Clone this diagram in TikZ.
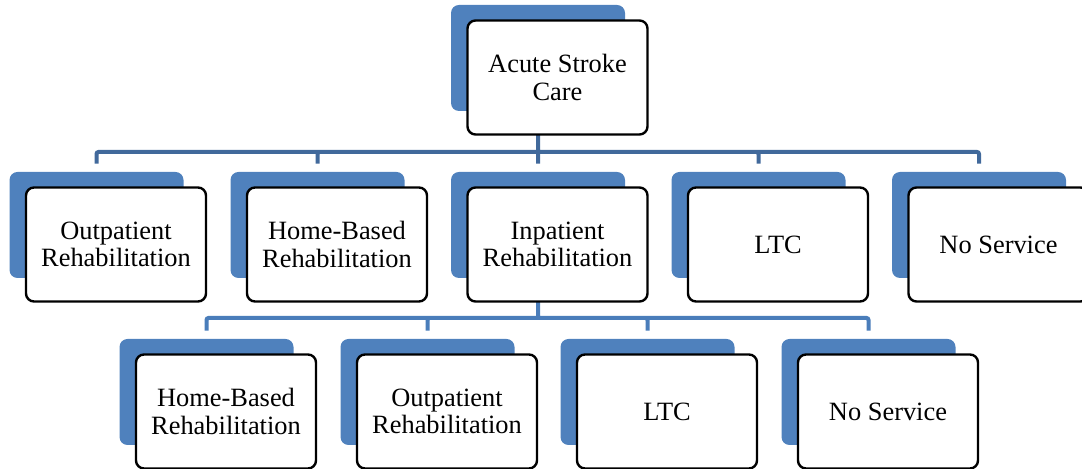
\documentclass[tikz,border=0pt]{standalone}
\usepackage{fontspec}
\setmainfont{Liberation Serif}
\definecolor{tileblue}{HTML}{4F81BD}
\definecolor{linkdark}{HTML}{41699B}
\definecolor{linklight}{HTML}{4A7DBA}
\begin{document}
\begin{tikzpicture}[x=0.5pt,y=-0.5pt]
    \tikzstyle{tile}=[rectangle,rounded corners=4pt,fill=tileblue,minimum width=87pt,minimum height=53pt]
    \tikzstyle{card}=[rectangle,rounded corners=4pt,draw=black,line width=1.2pt,fill=white,
                      minimum width=90pt,minimum height=57pt,align=center,
                      font=\fontsize{13.2}{13.7}\selectfont]
    \tikzstyle{link}=[line width=2pt,rounded corners=1pt]
    \useasboundingbox (0,0) rectangle (1082,469);

    \node[tile] (acuteb) at (538,58)    {};
    \node[tile] (outb)   at (96.5,225)  {};
    \node[tile] (homeb)  at (317.5,225) {};
    \node[tile] (inpb)   at (538,225)   {};
    \node[tile] (ltcb)   at (758.5,225) {};
    \node[tile] (nosb)   at (979,225)   {};
    \node[tile] (home2b) at (206.5,392) {};
    \node[tile] (out2b)  at (427.5,392) {};
    \node[tile] (ltc2b)  at (647.5,392) {};
    \node[tile] (nos2b)  at (868.5,392) {};

    \coordinate (bus1) at (538,152);
    \coordinate (bus2) at (538,318);

    \draw[link,draw=linkdark] (acuteb.south) -- (bus1)
                              ([yshift=4pt]outb.north)  |- (bus1)
                              ([yshift=4pt]homeb.north) |- (bus1)
                              ([yshift=4pt]inpb.north)  -- (bus1)
                              ([yshift=4pt]ltcb.north)  |- (bus1)
                              ([yshift=4pt]nosb.north)  |- (bus1);

    \draw[link,draw=linklight] (inpb.south) -- (bus2)
                               ([yshift=4pt]home2b.north) |- (bus2)
                               ([yshift=4pt]out2b.north)  |- (bus2)
                               ([yshift=4pt]ltc2b.north)  |- (bus2)
                               ([yshift=4pt]nos2b.north)  |- (bus2);

    \node[card] (acute) at ([shift={(19.5,19.5)}]acuteb.center) {Acute Stroke\\Care};
    \node[card] (out)   at ([shift={(19.5,19.5)}]outb.center)   {Outpatient\\Rehabilitation};
    \node[card] (home)  at ([shift={(19.5,19.5)}]homeb.center)  {Home-Based\\Rehabilitation};
    \node[card] (inp)   at ([shift={(19.5,19.5)}]inpb.center)   {Inpatient\\Rehabilitation};
    \node[card] (ltc)   at ([shift={(19.5,19.5)}]ltcb.center)   {LTC};
    \node[card] (nos)   at ([shift={(19.5,19.5)}]nosb.center)   {No Service};
    \node[card] (home2) at ([shift={(19.5,19.5)}]home2b.center) {Home-Based\\Rehabilitation};
    \node[card] (out2)  at ([shift={(19.5,19.5)}]out2b.center)  {Outpatient\\Rehabilitation};
    \node[card] (ltc2)  at ([shift={(19.5,19.5)}]ltc2b.center)  {LTC};
    \node[card] (nos2)  at ([shift={(19.5,19.5)}]nos2b.center)  {No Service};
\end{tikzpicture}
\end{document}
